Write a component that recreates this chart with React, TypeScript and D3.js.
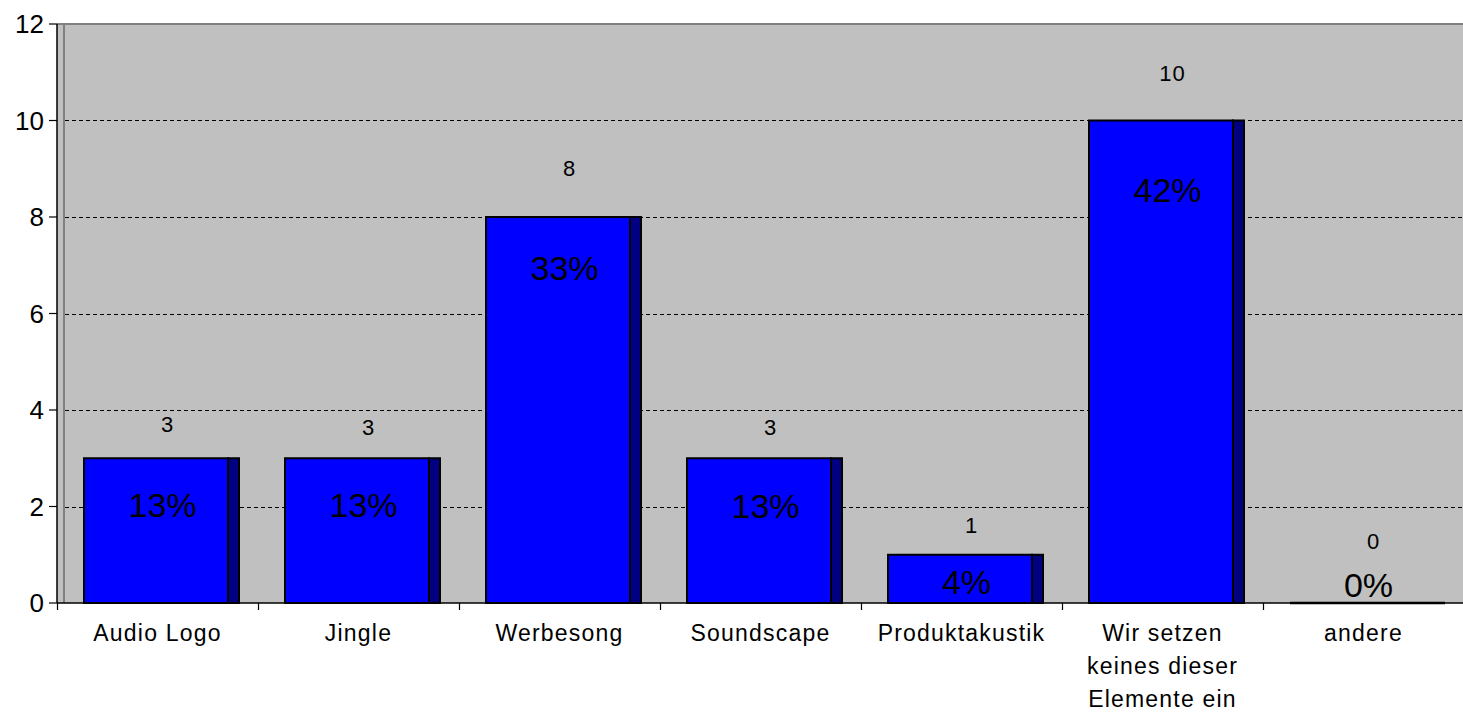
import React from "react";
import * as d3 from "d3";

const categories = [
  "Audio Logo",
  "Jingle",
  "Werbesong",
  "Soundscape",
  "Produktakustik",
  "Wir setzen\nkeines dieser\nElemente ein",
  "andere",
];
const values = [3, 3, 8, 3, 1, 10, 0];
const percentLabels = ["13%", "13%", "33%", "13%", "4%", "42%", "0%"];
// label anchor positions (in data units)
const valueLabelAt = [3.71, 3.65, 9.02, 3.65, 1.62, 10.98, 1.28];
const pctLabelAt = [2.03, 2.03, 6.94, 2.01, 0.435, 8.56, 0.37];
const yTicks = [0, 2, 4, 6, 8, 10, 12];

const W = 1463;
const H = 713;
const FONT = "'Liberation Sans', Arial, sans-serif";

export default function App() {
  const left = 57;
  const right = 1464;
  const top = 24;
  const bottom = 603;
  const x = d3.scaleBand<string>().domain(categories).range([left, right]).padding(0);
  const y = d3.scaleLinear().domain([0, 12]).range([bottom, top]);
  const bw = x.bandwidth();
  const barOff = 27;
  const frontW = 144;
  const sideW = 11;
  const wallX = 64;

  return (
    <div>
      <style>{`body{margin:0;background:#fff}`}</style>
      <svg width={W} height={H} style={{ display: "block" }} fontFamily={FONT}>
        <rect x={0} y={0} width={W} height={H} fill="#fff" />
        {/* plot background */}
        <rect x={left} y={top} width={W - left} height={bottom - top} fill="#c0c0c0" />
        {/* top border and wall */}
        <line x1={left} x2={W} y1={top} y2={top} stroke="#808080" strokeWidth={2} />
        <line x1={wallX} x2={wallX} y1={top} y2={bottom} stroke="#808080" strokeWidth={2} />
        {/* gridlines */}
        {yTicks
          .filter((t) => t > 0 && t < 12)
          .map((t) => (
            <line
              key={"g" + t}
              x1={wallX + 1}
              x2={W}
              y1={Math.round(y(t)) + 0.5}
              y2={Math.round(y(t)) + 0.5}
              stroke="#000"
              strokeWidth={1}
              strokeDasharray="4,3"
            />
          ))}
        {/* bars */}
        {categories.map((c, i) => {
          const bx = (x(c) as number) + barOff;
          const v = values[i];
          const yt = y(v);
          if (v === 0) {
            return (
              <line
                key={"b" + i}
                x1={bx}
                x2={bx + frontW + sideW}
                y1={bottom}
                y2={bottom}
                stroke="#000"
                strokeWidth={2.5}
              />
            );
          }
          return (
            <g key={"b" + i}>
              <rect
                x={bx + frontW}
                y={yt}
                width={sideW}
                height={bottom - yt}
                fill="#000080"
                stroke="#000"
                strokeWidth={2}
              />
              <rect
                x={bx}
                y={yt}
                width={frontW}
                height={bottom - yt}
                fill="#0000ff"
                stroke="#000"
                strokeWidth={2}
              />
            </g>
          );
        })}
        {/* axes */}
        <line x1={left} x2={left} y1={top} y2={bottom} stroke="#000" strokeWidth={1.5} />
        <line x1={left} x2={W} y1={bottom} y2={bottom} stroke="#000" strokeWidth={1.5} />
        {yTicks.map((t) => (
          <g key={"t" + t}>
            <line x1={left - 8} x2={left} y1={y(t)} y2={y(t)} stroke="#000" strokeWidth={1.2} />
            <text
              x={44}
              y={y(t)}
              dy="0.36em"
              textAnchor="end"
              fontSize={26}
              fill="#000"
            >
              {t}
            </text>
          </g>
        ))}
        {categories.map((c, i) => (
          <line
            key={"xt" + i}
            x1={(x(c) as number) + 0.5}
            x2={(x(c) as number) + 0.5}
            y1={bottom}
            y2={bottom + 7}
            stroke="#000"
            strokeWidth={1.2}
          />
        ))}
        {/* category labels */}
        {categories.map((c, i) => {
          const cx = (x(c) as number) + bw / 2;
          return (
            <text
              key={"c" + i}
              x={cx}
              y={641}
              textAnchor="middle"
              fontSize={23}
              letterSpacing={1.2}
              fill="#000"
            >
              {c.split("\n").map((ln, j) => (
                <tspan key={j} x={cx} dy={j === 0 ? 0 : 33}>
                  {ln}
                </tspan>
              ))}
            </text>
          );
        })}
        {/* value labels */}
        {categories.map((c, i) => (
          <text
            key={"v" + i}
            x={(x(c) as number) + bw / 2 + 10}
            y={y(valueLabelAt[i])}
            dy="0.36em"
            textAnchor="middle"
            fontSize={22}
            letterSpacing={1}
            fill="#000"
          >
            {values[i]}
          </text>
        ))}
        {/* percent labels */}
        {categories.map((c, i) => (
          <text
            key={"p" + i}
            x={(x(c) as number) + bw / 2 + 5}
            y={y(pctLabelAt[i])}
            dy="0.36em"
            textAnchor="middle"
            fontSize={34}
            fill="#000"
          >
            {percentLabels[i]}
          </text>
        ))}
      </svg>
    </div>
  );
}
